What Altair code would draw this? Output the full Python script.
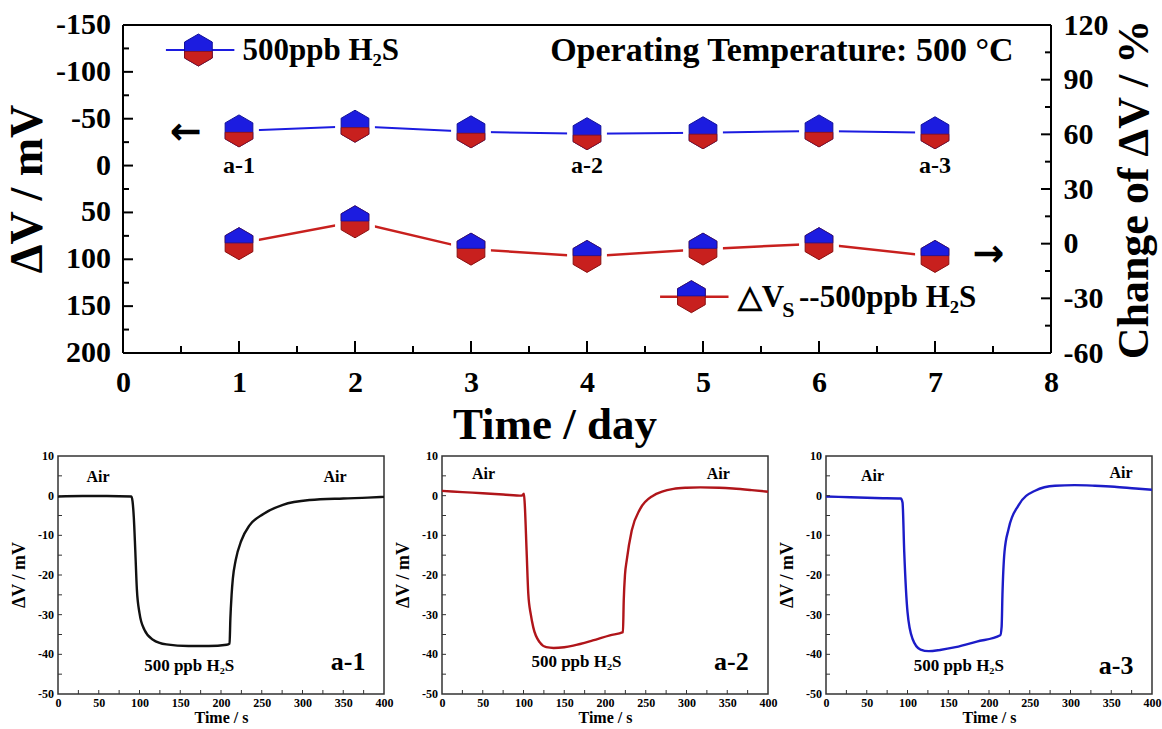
import altair as alt
import pandas as pd

FONT = "Liberation Serif"
BLUE = "#1c1ce0"
RED = "#c8201e"
U = alt.Undefined

# ---------------- top chart data ----------------
days = [1, 2, 3, 4, 5, 6, 7]
dv_mv = [-37, -42, -36, -34, -35, -37, -35]          # left axis, mV
dv_change = [0, 12, -3, -7, -3, 0, -7]               # right axis, %

x_major = [0, 1, 2, 3, 4, 5, 6, 7, 8]
x_minor = [0.5, 1.5, 2.5, 3.5, 4.5, 5.5, 6.5, 7.5]
left_major = [-150, -100, -50, 0, 50, 100, 150, 200]
left_minor = [-125, -75, -25, 25, 75, 125, 175]
right_major = [-60, -30, 0, 30, 60, 90, 120]
right_minor = [-45, -15, 15, 45, 75, 105]

# annotations of the top chart (x in days, y in left-axis mV)
ann_c_x = [1, 4, 7, 5.68]
ann_c_y = [0, 0, 0, -122]
ann_c_t = ["a-1", "a-2", "a-3", "Operating Temperature: 500 °C"]
ann_c_s = [24, 24, 24, 34]

ann_l_x = [1.03, 5.30, 5.684, 5.828]
ann_l_y = [-122, 141, 154, 141]
ann_l_t = ["500ppb H₂S", "△V", "S", "--500ppb H₂S"]
ann_l_s = [31, 31, 22, 31]

arrow_x = [0.54, 7.46]
arrow_y = [-34.4, 95.5]
arrow_t = ["←", "→"]

leg_x1 = [0.37, 4.63]
leg_x2 = [0.96, 5.22]
leg_y = [-123.3, 139.9]
leg_mx = [0.65, 4.90]

# ---------------- small panels data ----------------
a1_t = [0, 30, 60, 90, 91.5, 93, 94.8, 96.8, 100, 106, 116.5, 133, 160, 185, 207, 210.5,
        211.5, 213, 214.5, 218, 225, 235, 252, 276, 309, 350, 380, 400]
a1_v = [-0.2, -0.1, -0.1, -0.2, -1.5, -5.4, -13.7, -23.7, -29.6, -33.8, -36.3, -37.5, -37.9, -37.9, -37.6, -37.3,
        -31, -25, -21, -16.3, -11.3, -7.5, -4.6, -2.3, -1.1, -0.7, -0.5, -0.3]

a2_t = [0, 25, 50, 75, 98, 100.5, 101.5, 103.8, 105.9, 109, 112, 120, 128, 137, 150, 161, 185, 206,
        222, 223, 224.5, 226.6, 232.8, 243, 259, 270, 284, 300, 317, 340, 357, 380, 400]
a2_v = [1.2, 0.9, 0.6, 0.3, 0.0, 0.5, -2, -13.9, -24.8, -30, -33.2, -37.0, -38.2, -38.4, -38.2, -37.8, -36.5, -35.2,
        -34.4, -26.4, -20, -16.4, -8.8, -3.4, 0, 1.0, 1.7, 2.0, 2.1, 2.0, 1.8, 1.4, 1.0]

a3_t = [0, 30, 60, 91.8, 93.9, 96, 100, 106, 116, 126, 140, 159, 185, 213.8, 215.5, 216.5, 219, 224,
        236, 256.5, 281, 305, 330, 354, 380, 400]
a3_v = [-0.2, -0.4, -0.6, -0.7, -1.7, -14.2, -29.3, -36, -38.8, -39.2, -38.9, -38.2, -36.8, -35.2, -33, -25, -14.2, -8.4,
        -2.5, 1.25, 2.5, 2.65, 2.5, 2.25, 1.8, 1.5]

sx_major = [0, 50, 100, 150, 200, 250, 300, 350, 400]
sx_ticks = [25, 50, 75, 100, 125, 150, 175, 200, 225, 250, 275, 300, 325, 350, 375]
sy_major = [-50, -40, -30, -20, -10, 0, 10]
sy_ticks = [-45, -40, -35, -30, -25, -20, -15, -10, -5, 0, 5]

p_ann = {
    "a-1": ([49, 340, 161, 356], [4.7, 4.7, -43, -42]),
    "a-2": ([51, 339, 165, 355], [5.4, 5.4, -42, -42]),
    "a-3": ([57, 362, 163, 356], [5.0, 5.8, -43, -43]),
}

HEX = "M0,-1L0.866,-0.5L0.866,0.5L0,1L-0.866,0.5L-0.866,-0.5Z"
HEX_LOW = "M-0.866,0.09L0.866,0.09L0.866,0.5L0,1L-0.866,0.5Z"
HEX_TOP = "M0,-1L0.866,-0.5L0.866,-0.05L-0.866,-0.05L-0.866,-0.5Z"

# top plot: its frame starts X0PX pixels right of the group origin so that the
# bottom panels (whose origin is aligned with it) keep their own left margin
PX_DAY = 116
X0PX = 65
W, H = 8 * PX_DAY + X0PX, 328
XLO = -X0PX / PX_DAY
xs = alt.Scale(domain=[XLO, 8], nice=False, zero=False)
yl = alt.Scale(domain=[-150, 200], reverse=True, nice=False, zero=False)
yr = alt.Scale(domain=[-60, 120], nice=False, zero=False)

lab = dict(labelFont=FONT, labelFontWeight="bold", labelColor="black", titleFont=FONT,
           titleFontWeight="bold", titleColor="black", ticks=False, domain=False, grid=False,
           labelFlush=False, labelOverlap=False, format="d",
           labelExpr="replace(datum.label, '\u2212', '-')")

x_axis = alt.Axis(values=x_major, title="Time / day", labelFontSize=30, labelPadding=14,
                  titleFontSize=45, titlePadding=5, **lab)
yr_axis = alt.Axis(orient="right", values=right_major, title="Change of ΔV / %", labelFontSize=30,
                   labelPadding=12, titleFontSize=44, titlePadding=4, titleAngle=270,
                   titleBaseline="top", **lab)

NOAX = None


def ticks_y(vals, scale, x0, x1, sw, axis=U, color="black"):
    return alt.Chart(pd.DataFrame({"v": vals})).mark_rule(color=color, strokeWidth=sw).encode(
        y=alt.Y("v:Q", scale=scale, axis=axis), x=alt.value(x0), x2=alt.value(x1))


def ticks_x(vals, scale, y0, y1, sw, axis=U, color="black"):
    return alt.Chart(pd.DataFrame({"v": vals})).mark_rule(color=color, strokeWidth=sw).encode(
        x=alt.X("v:Q", scale=scale, axis=axis), y=alt.value(y0), y2=alt.value(y1))


top_df = pd.DataFrame({"day": days, "dv": dv_mv, "chg": dv_change})
leg_df = pd.DataFrame({"x1": leg_x1, "x2": leg_x2, "y": leg_y, "mx": leg_mx})
leg1 = leg_df.iloc[[0]]
leg2 = leg_df.iloc[[1]]

enc_b = dict(x=alt.X("day:Q", scale=xs), y=alt.Y("dv:Q", scale=yl, axis=NOAX))
enc_r = dict(x=alt.X("day:Q", scale=xs), y=alt.Y("chg:Q", scale=yr))
enc_lm = dict(x=alt.X("mx:Q", scale=xs), y=alt.Y("y:Q", scale=yl, axis=NOAX))


def pts(df, shape, size, fill, stroke, sw, enc):
    return alt.Chart(df).mark_point(shape=shape, size=size, filled=True, color=fill, opacity=1,
                                    stroke=stroke, strokeWidth=sw).encode(**enc)


def txt_layer(xv, yv, tv, sv, align, font=FONT):
    df = pd.DataFrame({"x": xv, "y": yv, "t": tv, "s": sv})
    return alt.Chart(df).mark_text(font=font, fontWeight="bold", color="black", align=align,
                                   baseline="middle").encode(
        x=alt.X("x:Q", scale=xs), y=alt.Y("y:Q", scale=yl, axis=NOAX),
        text="t:N", size=alt.Size("s:Q", scale=None))


# frame of the top plot, drawn from the axis limits
frame_df = pd.DataFrame({"x1": [0, 0, 0, 8], "x2": [8, 8, 0, 8],
                         "y1": [-150, 200, -150, -150], "y2": [-150, 200, 200, 200]})
frame = alt.Chart(frame_df).mark_rule(color="black", strokeWidth=2).encode(
    x=alt.X("x1:Q", scale=xs), x2="x2:Q", y=alt.Y("y1:Q", scale=yl, axis=NOAX), y2="y2:Q")

left_lab_df = pd.DataFrame({"x0": [0] * len(left_major), "v": left_major,
                            "t": [str(v) for v in left_major]})
left_labels = alt.Chart(left_lab_df).mark_text(
    font=FONT, fontWeight="bold", fontSize=30, color="black", align="right", baseline="middle",
    dx=-12).encode(x=alt.X("x0:Q", scale=xs), y=alt.Y("v:Q", scale=yl, axis=NOAX), text="t:N")
left_title = alt.Chart(pd.DataFrame({"t": ["ΔV / mV"]})).mark_text(
    font=FONT, fontWeight="bold", fontSize=46, color="black", angle=270, align="center",
    baseline="middle").encode(x=alt.value(X0PX - 95), y=alt.value(H / 2), text="t:N")

left = alt.layer(
    frame,
    ticks_y(left_major, yl, X0PX, X0PX + 10, 2, axis=NOAX),
    ticks_y(left_minor, yl, X0PX, X0PX + 6, 2, axis=NOAX),
    ticks_x(x_major, xs, H, H - 12, 2, axis=x_axis),
    ticks_x(x_minor, xs, H, H - 7, 2),
    left_labels,
    left_title,
    alt.Chart(top_df).mark_line(color=BLUE, strokeWidth=2).encode(**enc_b),
    pts(top_df, HEX, 46 * 46, "white", "white", 0, enc_b),
    pts(top_df, HEX, 1024, BLUE, "#10109a", 1, enc_b),
    pts(top_df, HEX_LOW, 1024, RED, "#8a1010", 0.8, enc_b),
    # legends
    alt.Chart(leg1).mark_rule(color=BLUE, strokeWidth=2).encode(
        x=alt.X("x1:Q", scale=xs), x2="x2:Q", y=alt.Y("y:Q", scale=yl, axis=NOAX)),
    alt.Chart(leg2).mark_rule(color=RED, strokeWidth=2.5).encode(
        x=alt.X("x1:Q", scale=xs), x2="x2:Q", y=alt.Y("y:Q", scale=yl, axis=NOAX)),
    pts(leg1, HEX, 1024, BLUE, "#10109a", 1, enc_lm),
    pts(leg1, HEX_LOW, 1024, RED, "#8a1010", 0.8, enc_lm),
    pts(leg2, HEX, 1024, RED, "#8a1010", 1, enc_lm),
    pts(leg2, HEX_TOP, 1024, BLUE, "#10109a", 0.8, enc_lm),
    txt_layer(ann_c_x, ann_c_y, ann_c_t, ann_c_s, "center"),
    txt_layer(ann_l_x, ann_l_y, ann_l_t, ann_l_s, "left"),
    txt_layer(arrow_x, arrow_y, arrow_t, [38, 38], "center", font="DejaVu Sans"),
)

right = alt.layer(
    ticks_y(right_major, yr, W, W - 10, 2, axis=yr_axis),
    ticks_y(right_minor, yr, W, W - 6, 2),
    alt.Chart(top_df).mark_line(color=RED, strokeWidth=2.5).encode(**enc_r),
    pts(top_df, HEX, 46 * 46, "white", "white", 0, enc_r),
    pts(top_df, HEX, 1024, RED, "#8a1010", 1, enc_r),
    pts(top_df, HEX_TOP, 1024, BLUE, "#10109a", 0.8, enc_r),
)

top = alt.layer(left, right).resolve_scale(y="independent").properties(
    width=W, height=H, view=alt.ViewBackground(stroke="transparent"))

# ---------------- small panels ----------------
P_W, P_H = 326, 238
sxs = alt.Scale(domain=[0, 400], nice=False, zero=False)
sys_ = alt.Scale(domain=[-50, 10], nice=False, zero=False)


def panel(ts, vs, color, name):
    xa = alt.Axis(values=sx_major, title="Time / s", labelFontSize=12, labelPadding=3,
                  titleFontSize=16, titlePadding=1, **lab)
    line = alt.Chart(pd.DataFrame({"t": ts, "v": vs})).mark_line(
        color=color, strokeWidth=2.4, interpolate="monotone").encode(
        x=alt.X("t:Q", scale=sxs, axis=xa), y=alt.Y("v:Q", scale=sys_, axis=NOAX))
    xtk = ticks_x(sx_ticks, sxs, P_H, P_H - 4, 1, color="#333")
    ytk = ticks_y(sy_ticks, sys_, 0, 4, 1, axis=NOAX, color="#333")
    ylab = alt.Chart(pd.DataFrame({"v": sy_major, "t": [str(v) for v in sy_major]})).mark_text(
        font=FONT, fontWeight="bold", fontSize=12, color="black", align="right",
        baseline="middle").encode(x=alt.value(-4), y=alt.Y("v:Q", scale=sys_, axis=NOAX),
                                  text="t:N")
    ytitle = alt.Chart(pd.DataFrame({"t": ["ΔV / mV"]})).mark_text(
        font=FONT, fontWeight="bold", fontSize=18, color="black", angle=270, align="center",
        baseline="middle").encode(x=alt.value(-38), y=alt.value(P_H / 2), text="t:N")
    ax, ay = p_ann[name]
    tdf = pd.DataFrame({"x": ax, "y": ay, "t": ["Air", "Air", "500 ppb H₂S", name],
                        "s": [16, 16, 17, 26]})
    txt = alt.Chart(tdf).mark_text(font=FONT, fontWeight="bold", color="black", align="center",
                                   baseline="middle").encode(
        x=alt.X("x:Q", scale=sxs), y=alt.Y("y:Q", scale=sys_, axis=NOAX),
        text="t:N", size=alt.Size("s:Q", scale=None))
    return alt.layer(line, xtk, ytk, ylab, ytitle, txt).properties(
        width=P_W, height=P_H, view=alt.ViewBackground(stroke="#333", strokeWidth=1.5))


p1 = panel(a1_t, a1_v, "#111111", "a-1")
p2 = panel(a2_t, a2_v, "#b0151a", "a-2")
p3 = panel(a3_t, a3_v, "#1c1cc8", "a-3")

bottom = alt.hconcat(p1, p2, p3, spacing=0)

chart = alt.concat(top, bottom, columns=1, spacing=1).properties(
    padding={"left": 4, "top": 9, "right": 0, "bottom": 0}, background="white")

chart.save("out.html", embed_options={"renderer": "svg", "actions": False})
